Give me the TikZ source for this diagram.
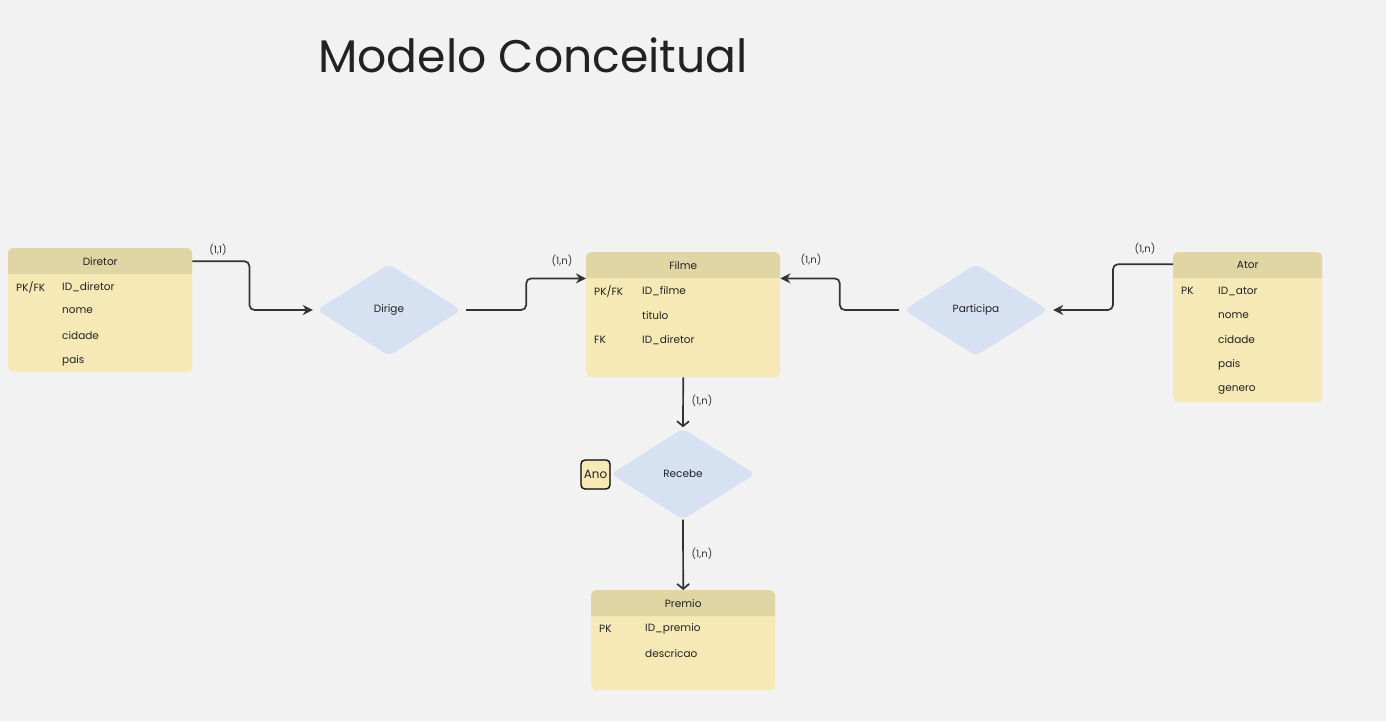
\documentclass[tikz,border=0pt]{standalone}
\usepackage{fontspec}
\setmainfont{Poppins}
\usetikzlibrary{shapes.geometric,arrows.meta,calc}
\definecolor{bg}{HTML}{F2F2F2}
\definecolor{headc}{HTML}{E0D6A4}
\definecolor{bodyc}{HTML}{F6E9B6}
\definecolor{diac}{HTML}{D6E2F2}
\definecolor{linec}{HTML}{333333}
\definecolor{txt}{HTML}{222222}
\begin{document}
\begin{tikzpicture}[x=1pt,y=-1pt,
  tbody/.style={fill=bodyc, rounded corners=5pt, inner sep=0, anchor=north west},
  thead/.style={inner sep=0, anchor=north west, font=\fontsize{10.5}{12}\selectfont\color{txt}},
  attr/.style={anchor=west, inner sep=0, font=\fontsize{10.5}{12}\selectfont\color{txt}},
  rel/.style={diamond, fill=diac, rounded corners=6pt, inner sep=0, minimum width=144pt, minimum height=92pt, aspect=1.565, font=\fontsize{10.5}{12}\selectfont\color{txt}},
  card/.style={inner sep=0, font=\fontsize{10}{12}\selectfont\color{linec}},
  conn/.style={draw=linec, line width=1.7pt, rounded corners=5pt, -{Stealth[length=10pt,width=10pt]}},
  vconn/.style={draw=linec, line width=1.7pt, -{Straight Barb[length=5pt,width=12pt]}}
]
\fill[bg] (0,0) rectangle (1386,721);
\useasboundingbox (0,0) rectangle (1386,721);

\node[anchor=base west, inner sep=0, font=\fontsize{45.7}{52}\selectfont, text=txt] (title) at (318,72) {Modelo Conceitual};

% ---- Diretor ----
\node[tbody, minimum width=184pt, minimum height=124pt] (diretor) at (8,248) {};
\fill[headc] (8,274) [rounded corners=5pt] -- (8,248) -- (192,248) [sharp corners] -- (192,274) -- cycle;
\node[thead, minimum width=184pt, minimum height=26pt] (dirhead) at (8,248) {};
\node[inner sep=0, font=\fontsize{10.5}{12}\selectfont\color{txt}] (dirlbl) at (dirhead.center) {Diretor};
\node[attr] (d1k) at (16,287) {PK/FK};
\node[attr] (d1) at (62,287) {ID\_diretor};
\node[attr] (d2) at (62,311) {nome};
\node[attr] (d3) at (62,336) {cidade};
\node[attr] (d4) at (62,361) {pais};

% ---- Filme ----
\node[tbody, minimum width=194pt, minimum height=125pt] (filme) at (586,252) {};
\fill[headc] (586,278) [rounded corners=5pt] -- (586,252) -- (780,252) [sharp corners] -- (780,278) -- cycle;
\node[thead, minimum width=194pt, minimum height=26pt] (filhead) at (586,252) {};
\node[inner sep=0, font=\fontsize{10.5}{12}\selectfont\color{txt}] (fillbl) at (filhead.center) {Filme};
\node[attr] (f1k) at (594,291) {PK/FK};
\node[attr] (f1) at (642,291) {ID\_filme};
\node[attr] (f2) at (642,316) {titulo};
\node[attr] (f3k) at (594,340) {FK};
\node[attr] (f3) at (642,340) {ID\_diretor};

% ---- Ator ----
\node[tbody, minimum width=149pt, minimum height=150pt] (ator) at (1173,252) {};
\fill[headc] (1173,278) [rounded corners=5pt] -- (1173,252) -- (1322,252) [sharp corners] -- (1322,278) -- cycle;
\node[thead, minimum width=149pt, minimum height=26pt] (athead) at (1173,252) {};
\node[inner sep=0, font=\fontsize{10.5}{12}\selectfont\color{txt}] (atlbl) at (athead.center) {Ator};
\node[attr] (a1k) at (1181,291) {PK};
\node[attr] (a1) at (1218,291) {ID\_ator};
\node[attr] (a2) at (1218,316) {nome};
\node[attr] (a3) at (1218,340) {cidade};
\node[attr] (a4) at (1218,365) {pais};
\node[attr] (a5) at (1218,390) {genero};

% ---- Premio ----
\node[tbody, minimum width=184pt, minimum height=100pt] (premio) at (591,590) {};
\fill[headc] (591,616) [rounded corners=5pt] -- (591,590) -- (775,590) [sharp corners] -- (775,616) -- cycle;
\node[thead, minimum width=184pt, minimum height=26pt] (prhead) at (591,590) {};
\node[inner sep=0, font=\fontsize{10.5}{12}\selectfont\color{txt}] (prlbl) at (prhead.center) {Premio};
\node[attr] (p1k) at (599,629) {PK};
\node[attr] (p1) at (645,629) {ID\_premio};
\node[attr] (p2) at (645,654) {descricao};

% ---- relationships ----
\node[rel] (dirige) at (389,310) {Dirige};
\node[rel] (participa) at (976,310) {Participa};
\node[rel, minimum height=91pt] (recebe) at (683,474) {Recebe};

\node[draw=black, line width=1.3pt, fill=bodyc, rounded corners=4pt, minimum width=29pt, minimum height=29pt, inner sep=0, font=\fontsize{12}{14}\selectfont\color{txt}] (ano) at (595.5,474.5) {Ano};

% ---- connectors ----
\draw[conn, shorten >=4pt] (dirhead.east) -- ++(57,0) |- (dirige.west);
\draw[conn, shorten <=5pt] (dirige.east) -- ++(65,0) |- (filhead.south west);
\draw[conn, shorten <=5pt] (participa.west) -- ++(-64,0) |- (filhead.south east);
\draw[conn, shorten >=5pt] ([yshift=1pt]athead.west) -- ++(-60,0) |- (participa.east);
\draw[vconn, shorten >=1pt] (filme.south) -- (recebe.north);
\draw[vconn] (recebe.south) -- (premio.north);

% ---- cardinalities ----
\node[card] (c1) at (218,250) {(1,1)};
\node[card] (c2) at (562,261) {(1,n)};
\node[card] (c3) at (811,260) {(1,n)};
\node[card] (c4) at (1145,249) {(1,n)};
\node[card] (c5) at (702,401) {(1,n)};
\node[card] (c6) at (702,554) {(1,n)};
\end{tikzpicture}
\end{document}
